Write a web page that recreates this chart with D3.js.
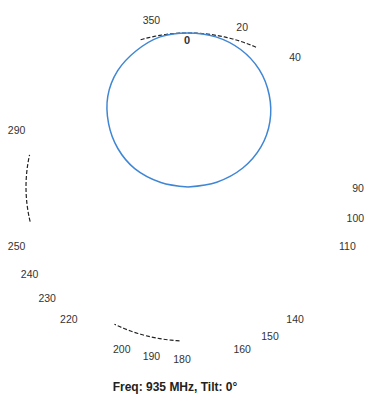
<!DOCTYPE html>
<html>
<head>
<meta charset="utf-8">
<script src="https://cdn.jsdelivr.net/npm/d3@7"></script>
<style>
  body { margin: 0; background: #fff; }
  text { font-family: "Liberation Sans", Arial, sans-serif; }
</style>
</head>
<body>
<div id="chart"></div>
<script>
// pattern readings (degrees, relative gain)
const angles = [270, 280, 290, 300, 310, 320, 330, 340, 350, 0, 10, 20, 30, 40, 50, 60, 70, 80, 90];
const gains  = [0.00, 0.17, 0.35, 0.50, 0.64, 0.77, 0.87, 0.94, 0.99, 1.00, 0.99, 0.95, 0.88, 0.78, 0.66, 0.52, 0.36, 0.18, 0.00];
// angle labels that are readable around the rim
const tickLabels = [350, 20, 40, 90, 100, 110, 140, 150, 160, 180, 190, 200, 220, 230, 240, 250, 290];
// parts of the outer ring still visible (start, end in degrees)
const ringParts = [[-17, 25], [183, 207], [257, 282]];
const title = "Freq: 935 MHz, Tilt: 0°";

(() => {
  const W = 379, H = 405;
  const cx = 188, cy = 187, R = 162, squash = 154 / 162;
  const rad = d => d * Math.PI / 180;

  const svg = d3.select("#chart").append("svg")
    .attr("width", W).attr("height", H);

  const r = d3.scaleLinear().domain([0, 1]).range([0, R]);

  const plot = svg.append("g")
    .attr("transform", `translate(${cx},${cy}) scale(1,${squash})`);

  // outer ring fragments
  const ring = d3.lineRadial()
    .angle(d => rad(d))
    .radius(r(1))
    .curve(d3.curveLinear);

  plot.selectAll("path.ring")
    .data(ringParts)
    .join("path")
    .attr("class", "ring")
    .attr("d", p => ring(d3.range(p[0], p[1] + 0.5, 1)))
    .attr("fill", "none")
    .attr("stroke", "#222")
    .attr("stroke-width", 1.2)
    .attr("stroke-dasharray", "4,2")
    .attr("vector-effect", "non-scaling-stroke");

  // radiation pattern
  const data = angles.map((a, i) => ({ angle: a, gain: gains[i] }));
  const pattern = d3.lineRadial()
    .angle(d => rad(d.angle))
    .radius(d => r(d.gain))
    .curve(d3.curveCatmullRom);

  plot.append("path")
    .datum(data)
    .attr("d", pattern)
    .attr("fill", "none")
    .attr("stroke", "#3f86d4")
    .attr("stroke-width", 1.5)
    .attr("vector-effect", "non-scaling-stroke");

  // angle labels
  const lx = 176, ly = 171, lcx = 182, lcy = 188;
  svg.append("g").selectAll("text")
    .data(tickLabels)
    .join("text")
    .attr("x", d => lcx + lx * Math.sin(rad(d)))
    .attr("y", d => lcy - ly * Math.cos(rad(d)) + 4)
    .attr("text-anchor", "middle")
    .style("font-size", "10.5px")
    .style("fill", "#333")
    .text(d => d);

  // zero mark just inside the top of the ring
  svg.append("text")
    .attr("x", cx - 1)
    .attr("y", cy - r(1) * squash + 11)
    .attr("text-anchor", "middle")
    .style("font-size", "11px")
    .style("font-weight", "bold")
    .style("fill", "#333")
    .text("0");

  svg.append("text")
    .attr("x", 175)
    .attr("y", 391)
    .attr("text-anchor", "middle")
    .style("font-size", "12px")
    .style("font-weight", "bold")
    .style("fill", "#222")
    .text(title);
})();
</script>
</body>
</html>
